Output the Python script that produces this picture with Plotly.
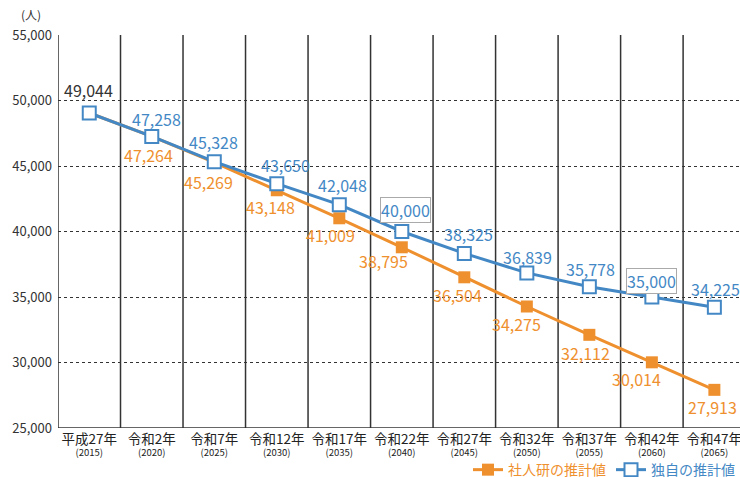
import plotly.graph_objects as go

# Projection periods (Japanese era year + western year)
era_labels = ["平成27年", "令和2年", "令和7年", "令和12年", "令和17年", "令和22年",
              "令和27年", "令和32年", "令和37年", "令和42年", "令和47年"]
years = ["2015", "2020", "2025", "2030", "2035", "2040",
         "2045", "2050", "2055", "2060", "2065"]

# Population projections (persons)
ipss_values = [49044, 47264, 45269, 43148, 41009, 38795, 36504, 34275, 32112, 30014, 27913]
own_values = [49044, 47258, 45328, 43650, 42048, 40000, 38325, 36839, 35778, 35000, 34225]

ORANGE = "#EF902E"
BLUE = "#4388C5"
FONT = "Noto Sans CJK JP"

x = list(range(len(years)))
ticktext = [f"<span style='font-size:13.5px'>{e}</span><br>({y})" for e, y in zip(era_labels, years)]

fig = go.Figure()
fig.add_trace(go.Scatter(
    x=x, y=ipss_values, mode="lines+markers",
    name=f"<span style='color:{ORANGE}'>社人研の推計値</span>",
    line=dict(color=ORANGE, width=3),
    marker=dict(symbol="square", size=12, color=ORANGE),
))
fig.add_trace(go.Scatter(
    x=x, y=own_values, mode="lines+markers",
    name=f"<span style='color:{BLUE}'>独自の推計値</span>",
    line=dict(color=BLUE, width=3),
    marker=dict(symbol="square", size=13, color="white", line=dict(color=BLUE, width=2)),
))

# Label offsets in pixels (right, down) relative to each point
orange_off = [None, (-3, 19), (-6, 20), (-6, 17), (-9, 17), (-18, 14), (-7, 18),
              (-10, 17), (-4, 18), (-15, 17), (-2, 17)]
blue_off = [(-1, -23), (5, -17), (-1, -20), (9, -19), (3, -20), (4, -22), (4, -19),
            (1, -16), (1, -18), (0, -16), (1, -18)]
boxed = {40000, 35000}

annotations = []
for i, v in enumerate(ipss_values):
    off = orange_off[i]
    if off is None:
        continue
    annotations.append(dict(x=i, y=v, text=f"{v:,}", showarrow=False,
                            xshift=off[0], yshift=-off[1],
                            font=dict(color=ORANGE, size=16, family=FONT)))
for i, v in enumerate(own_values):
    dx, dy = blue_off[i]
    color = "#333333" if i == 0 else BLUE
    a = dict(x=i, y=v, text=f"{v:,}", showarrow=False, xshift=dx, yshift=-dy,
             font=dict(color=color, size=16, family=FONT))
    if v in boxed:
        a.update(bordercolor="#AAAAAA", borderwidth=1, bgcolor="white", borderpad=0)
    annotations.append(a)

annotations.append(dict(xref="paper", yref="paper", x=-0.04, y=1.025, xanchor="center",
                        yanchor="bottom", text="(人)", showarrow=False,
                        font=dict(size=12, color="#333333", family=FONT)))

# Solid vertical separators between periods
shapes = []
for i in range(len(years) + 1):
    shapes.append(dict(type="line", xref="x", yref="y", x0=i - 0.5, x1=i - 0.5,
                       y0=25000, y1=55000, line=dict(color="#333333", width=1.5), layer="below"))

fig.update_layout(
    width=740, height=477,
    margin=dict(l=58, r=0, t=35, b=49, autoexpand=False),
    paper_bgcolor="white", plot_bgcolor="white",
    font=dict(family=FONT, color="#333333"),
    showlegend=True,
    legend=dict(orientation="h", xanchor="right", x=1.0, yanchor="middle", y=-0.107,
                font=dict(size=14, family=FONT), bgcolor="rgba(0,0,0,0)",
                itemwidth=30, traceorder="normal"),
    annotations=annotations,
    shapes=shapes,
)
fig.update_xaxes(range=[-0.5, 10.41], tickmode="array", tickvals=x, ticktext=ticktext,
                 showgrid=False, zeroline=False, showline=False, ticks="",
                 ticklabeloverflow="allow", ticklabelstandoff=5,
                 tickfont=dict(size=9.5, color="#222222", family=FONT))
fig.update_yaxes(range=[25000, 55000], tickmode="array",
                 tickvals=[25000, 30000, 35000, 40000, 45000, 50000, 55000],
                 tickformat=",", showgrid=True, gridcolor="#333333", griddash="3px,3px",
                 gridwidth=1, zeroline=False, showline=False, ticks="",
                 ticklabelstandoff=5,
                 tickfont=dict(size=13, color="#333333", family=FONT))

# Solid baseline at the bottom of the plot
fig.add_shape(type="line", xref="paper", yref="y", x0=0, x1=1, y0=25000, y1=25000,
              line=dict(color="#333333", width=1.5))

fig.write_html("out.html")
